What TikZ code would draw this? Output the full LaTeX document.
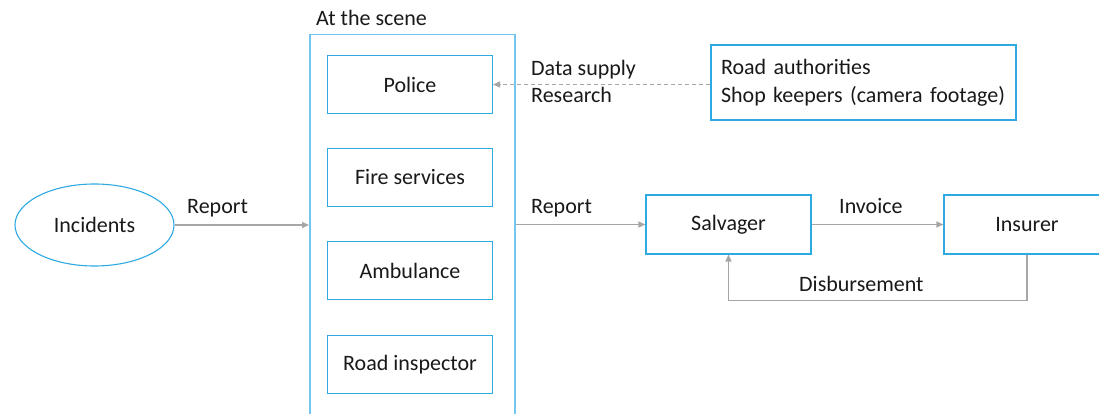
\documentclass[tikz,border=0pt]{standalone}
\usepackage{fontspec}
\setmainfont{Carlito}
\usetikzlibrary{shapes.geometric,arrows.meta}
\definecolor{boxblue}{RGB}{45,170,225}
\definecolor{sceneblue}{RGB}{115,198,240}
\definecolor{arrowgray}{RGB}{166,166,166}
\definecolor{txt}{RGB}{25,25,25}
\tikzset{
  every node/.style={font=\fontsize{22}{28}\selectfont, text=txt},
  inbox/.style={draw=boxblue, line width=1.1pt, rectangle, minimum width=165pt, minimum height=58pt, inner sep=0pt},
  flow/.style={draw=arrowgray, line width=1.4pt, -{Triangle[length=7pt,width=6pt]}},
  dflow/.style={flow, dash pattern=on 4pt off 3pt},
  lbl/.style={anchor=base west, inner sep=0pt},
}
\begin{document}
\begin{tikzpicture}[x=1pt,y=-1pt]
\clip (0,0) rectangle (1099,414);
\fill[white] (0,0) rectangle (1099,414);
% container
\node[draw=sceneblue, line width=1.5pt, rectangle, minimum width=205pt, minimum height=400pt, inner sep=0pt, anchor=north west] (scene) at (309,34) {};
\node[lbl] (scenelbl) at (316,26) {At the scene};
% inner boxes
\node[inbox] (police) at (410,84.5) {Police};
\node[inbox] (fire) at (410,177.5) {Fire services};
\node[inbox] (amb) at (410,270.5) {Ambulance};
\node[inbox] (road) at (410,364.5) {Road inspector};
% incidents
\node[draw=boxblue, line width=1.1pt, ellipse, minimum width=159pt, minimum height=82pt, inner sep=0pt] (inc) at (94.5,225) {Incidents};
% other boxes
\node[inbox, minimum height=59pt] (salv) at (728.5,224.5) {Salvager};
\node[inbox, minimum width=166pt, minimum height=59pt] (ins) at (1027,224.5) {Insurer};
\node[draw=boxblue, line width=1.1pt, rectangle, text width=295pt, align=left, inner xsep=5pt, inner ysep=0pt, minimum height=75pt] (auth) at (863.5,82.5) {\hspace*{5pt}Road authorities\\\hspace*{5pt}Shop keepers (camera footage)};
% connectors
\draw[flow] (inc.east) -- (scene.west |- inc.east);
\draw[flow] (scene.east |- salv.west) -- (salv.west);
\draw[flow] (salv.east) -- (ins.west);
\draw[flow] (ins.south) -- ++(0,46) -| (salv.south);
\draw[dflow] (auth.west |- police.east) -- (police.east);
% labels
\node[lbl] (rep1) at (187,213) {Report};
\node[lbl] (rep2) at (531,213) {Report};
\node[lbl] (inv) at (839,213) {Invoice};
\node[lbl] (disb) at (799,291) {Disbursement};
\node[lbl] (data) at (531,76) {Data supply};
\node[lbl] (res) at (531,103) {Research};
\end{tikzpicture}
\end{document}
